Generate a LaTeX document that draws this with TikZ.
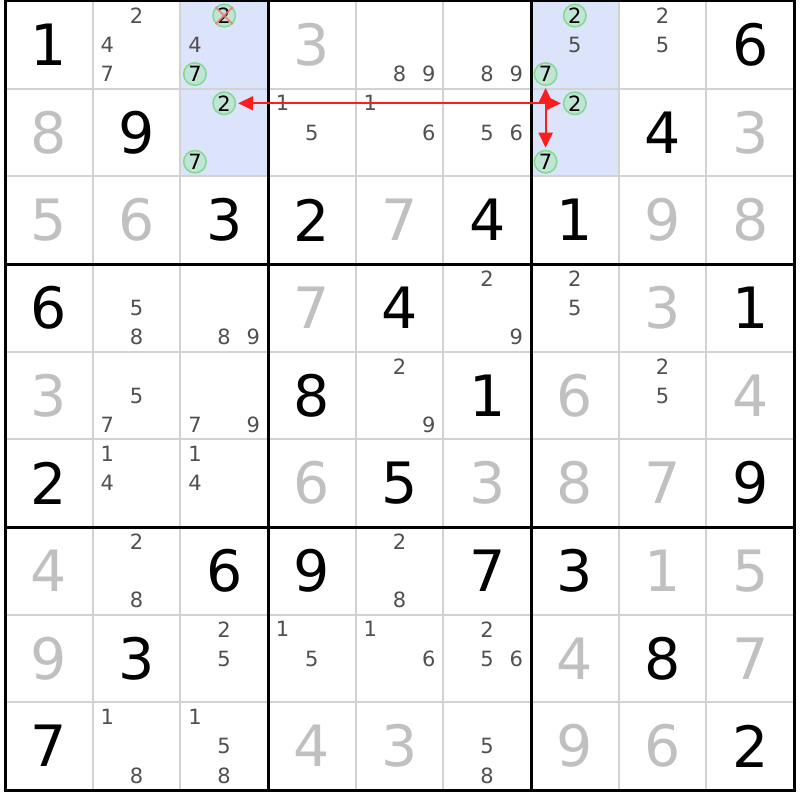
\documentclass[tikz,border=0pt]{standalone}
\usepackage{fontspec}
\setmainfont{DejaVu Sans}
\usetikzlibrary{arrows.meta}
\definecolor{hl}{RGB}{220,228,252}
\definecolor{gridgray}{RGB}{210,210,210}
\definecolor{solvedgray}{RGB}{192,192,192}
\definecolor{candgray}{RGB}{80,80,80}
\definecolor{cfill}{RGB}{192,228,214}
\definecolor{cdraw}{RGB}{130,218,140}
\definecolor{linkred}{RGB}{250,30,30}
\definecolor{xmark}{RGB}{240,120,120}
\tikzset{
 givendigit/.style={inner sep=0pt, font=\fontsize{57}{57}\selectfont, text=black},
 solveddigit/.style={givendigit, text=solvedgray},
 canddigit/.style={inner sep=0pt, font=\fontsize{21}{21}\selectfont, text=candgray},
 circdigit/.style={circle, draw=cdraw, fill=cfill, line width=1.5pt, minimum size=22.5pt, inner sep=0pt, font=\fontsize{21}{21}\selectfont, text=black},
 thinline/.style={draw=gridgray, line width=2pt},
 boxline/.style={draw=black, line width=3pt},
 linkarrow/.style={draw=linkred, line width=2pt, {Triangle[length=15pt,width=14pt]}-{Triangle[length=15pt,width=14pt]}, shorten <=2pt, shorten >=2pt},
 crossline/.style={draw=xmark, line width=2pt, opacity=0.8},
}
\def\S{87.667}
\def\X{5}
\def\Y{1}
\begin{document}
\begin{tikzpicture}[x=1pt,y=-1pt]
\useasboundingbox (0,0) rectangle (800,800);
\fill[white] (0,0) rectangle (800,800);
% highlighted cells
\foreach \r/\c in {1/3,2/3,1/7,2/7}
  \fill[hl] ({\X+(\c-1)*\S},{\Y+(\r-1)*\S}) rectangle ({\X+\c*\S},{\Y+\r*\S});
% thin grid
\foreach \i in {1,2,4,5,7,8} {
  \draw[thinline] ({\X+\i*\S},{\Y}) -- ({\X+\i*\S},{\Y+9*\S});
  \draw[thinline] ({\X},{\Y+\i*\S}) -- ({\X+9*\S},{\Y+\i*\S});
}
% box lines
\foreach \i in {3,6} {
  \draw[boxline] ({\X+\i*\S},{\Y}) -- ({\X+\i*\S},{\Y+9*\S});
  \draw[boxline] ({\X},{\Y+\i*\S}) -- ({\X+9*\S},{\Y+\i*\S});
}
\draw[boxline] ({\X},{\Y}) rectangle ({\X+9*\S},{\Y+9*\S});
% given digits
\foreach \r/\c/\d in {1/1/1,1/9/6,2/2/9,2/8/4,3/3/3,3/4/2,3/6/4,3/7/1,4/1/6,4/5/4,4/9/1,5/4/8,5/6/1,6/1/2,6/5/5,6/9/9,7/3/6,7/4/9,7/6/7,7/7/3,8/2/3,8/8/8,9/1/7,9/9/2}
  \node[givendigit] (v-\r-\c) at ({\X+(\c-0.5)*\S},{\Y+(\r-0.5)*\S}) {\d};
% solved digits
\foreach \r/\c/\d in {1/4/3,2/1/8,2/9/3,3/1/5,3/2/6,3/5/7,3/8/9,3/9/8,4/4/7,4/8/3,5/1/3,5/7/6,5/9/4,6/4/6,6/6/3,6/7/8,6/8/7,7/1/4,7/8/1,7/9/5,8/1/9,8/7/4,8/9/7,9/4/4,9/5/3,9/7/9,9/8/6}
  \node[solveddigit] (v-\r-\c) at ({\X+(\c-0.5)*\S},{\Y+(\r-0.5)*\S}) {\d};
% plain candidates
\foreach \r/\c/\d in {1/2/2,1/2/4,1/2/7,1/3/4,1/5/8,1/5/9,1/6/8,1/6/9,1/7/5,1/8/2,1/8/5,
  2/4/1,2/4/5,2/5/1,2/5/6,2/6/5,2/6/6,
  4/2/5,4/2/8,4/3/8,4/3/9,4/6/2,4/6/9,4/7/2,4/7/5,
  5/2/5,5/2/7,5/3/7,5/3/9,5/5/2,5/5/9,5/8/2,5/8/5,
  6/2/1,6/2/4,6/3/1,6/3/4,
  7/2/2,7/2/8,7/5/2,7/5/8,
  8/3/2,8/3/5,8/4/1,8/4/5,8/5/1,8/5/6,8/6/2,8/6/5,8/6/6,
  9/2/1,9/2/8,9/3/1,9/3/5,9/3/8,9/6/5,9/6/8}
  \node[canddigit] (k-\r-\c-\d) at ({\X+(\c-1)*\S+(mod(\d-1,3)+0.5)*\S/3},{\Y+(\r-1)*\S+(floor((\d-1)/3)+0.5)*\S/3}) {\d};
% circled candidates
\foreach \r/\c/\d in {1/3/2,1/3/7,2/3/2,2/3/7,1/7/2,1/7/7,2/7/2,2/7/7}
  \node[circdigit] (k-\r-\c-\d) at ({\X+(\c-1)*\S+(mod(\d-1,3)+0.5)*\S/3},{\Y+(\r-1)*\S+(floor((\d-1)/3)+0.5)*\S/3}) {\d};
% eliminated candidate cross
\draw[crossline] (k-1-3-2.north west) -- (k-1-3-2.south east);
\draw[crossline] (k-1-3-2.north east) -- (k-1-3-2.south west);
% links
\draw[linkarrow] (k-2-3-2) -- (k-2-7-2);
\draw[linkarrow] (k-1-7-7) -- (k-2-7-7);
\end{tikzpicture}
\end{document}
